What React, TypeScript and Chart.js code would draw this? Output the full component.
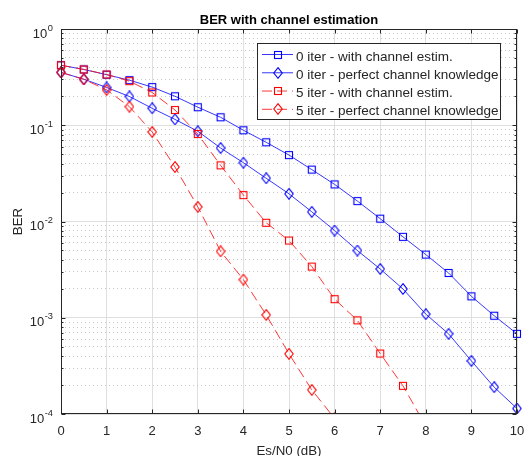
import React, { useEffect, useRef } from "react";
import { Chart, registerables } from "chart.js";

Chart.register(...registerables);

// ---------- data ----------
const esn0 = [0, 0.5, 1, 1.5, 2, 2.5, 3, 3.5, 4, 4.5, 5, 5.5, 6, 6.5, 7, 7.5, 8, 8.5, 9, 9.5, 10];

const ber0IterEstim = [0.42, 0.38, 0.335, 0.294, 0.249, 0.2, 0.154, 0.121, 0.0887, 0.0665, 0.049, 0.0346, 0.0243, 0.0163, 0.0107, 0.00693, 0.00453, 0.00292, 0.00167, 0.00105, 0.00068];
const ber0IterPerfect = [0.354, 0.301, 0.247, 0.199, 0.15, 0.115, 0.0866, 0.058, 0.0408, 0.0281, 0.0194, 0.0126, 0.00806, 0.00499, 0.00321, 0.00199, 0.00109, 0.00068, 0.000356, 0.00019, 0.000114];
const ber5IterEstim = [0.42, 0.38, 0.337, 0.287, 0.219, 0.144, 0.081, 0.0383, 0.0188, 0.0097, 0.00634, 0.0034, 0.00156, 0.00094, 0.000425, 0.000196, 0.000075, null, null, null, null];
const ber5IterPerfect = [0.354, 0.3, 0.233, 0.156, 0.0851, 0.0368, 0.0142, 0.0049, 0.00249, 0.00107, 0.000422, 0.000178, 0.00009, null, null, null, null, null, null, null, null];

const seriesLabels = [
  "0 iter - with channel estim.",
  "0 iter - perfect channel knowledge",
  "5 iter - with channel estim.",
  "5 iter - perfect channel knowledge",
];

const xTickValues = [0, 1, 2, 3, 4, 5, 6, 7, 8, 9, 10];
const yDecades = [1e-4, 1e-3, 1e-2, 1e-1, 1];
const yDecadeExponents = ["-4", "-3", "-2", "-1", "0"];
const yMinorFactors = [2, 3, 4, 5, 6, 7, 8, 9];

const titleText = "BER with channel estimation";
const xAxisLabel = "Es/N0 (dB)";
const yAxisLabel = "BER";

// ---------- styling ----------
const FONT = '"Liberation Sans", Arial, Helvetica, sans-serif';
const AXIS_COLOR = "#262626";
const BLUE = "rgb(0,0,255)";
const RED = "rgb(255,0,0)";
const LINE_BLUE = "rgba(20,20,255,0.85)";
const LINE_RED = "rgba(255,20,20,0.85)";
const DASH = [10, 5];

function makeMarker(kind: "square" | "diamond", color: string): HTMLCanvasElement {
  const c = document.createElement("canvas");
  if (kind === "square") {
    c.width = 10;
    c.height = 10;
    const g = c.getContext("2d")!;
    g.strokeStyle = color;
    g.lineWidth = 1.1;
    g.strokeRect(1.5, 1.5, 7, 7);
  } else {
    c.width = 10;
    c.height = 12;
    const g = c.getContext("2d")!;
    g.strokeStyle = color;
    g.lineWidth = 1.1;
    g.beginPath();
    g.moveTo(5, 0.7);
    g.lineTo(9.2, 6);
    g.lineTo(5, 11.3);
    g.lineTo(0.8, 6);
    g.closePath();
    g.stroke();
  }
  return c;
}

function isDecade(v: number) {
  const l = Math.log10(v);
  return Math.abs(l - Math.round(l)) < 1e-9;
}

const matlabPlugin = {
  id: "matlabLook",
  beforeDraw(chart: any) {
    const { ctx, width, height } = chart;
    ctx.save();
    ctx.fillStyle = "#ffffff";
    ctx.fillRect(0, 0, width, height);
    ctx.restore();
  },
  afterDraw(chart: any) {
    const { ctx, chartArea: a } = chart;
    const xs = chart.scales.x;
    const ys = chart.scales.y;
    ctx.save();

    // box
    ctx.strokeStyle = AXIS_COLOR;
    ctx.lineWidth = 1;
    ctx.setLineDash([]);
    const L = Math.round(a.left) + 0.5;
    const R = Math.round(a.right) - 0.5;
    const T = Math.round(a.top) + 0.5;
    const B = Math.round(a.bottom) - 0.5;
    ctx.strokeRect(L, T, R - L, B - T);

    // ticks (inside, all sides)
    ctx.beginPath();
    xs.ticks.forEach((t: any) => {
      const px = Math.round(xs.getPixelForValue(t.value)) + 0.5;
      ctx.moveTo(px, B);
      ctx.lineTo(px, B - 4);
      ctx.moveTo(px, T);
      ctx.lineTo(px, T + 4);
    });
    ys.ticks.forEach((t: any) => {
      const py = Math.round(ys.getPixelForValue(t.value)) + 0.5;
      const len = isDecade(t.value) ? 4 : 2;
      ctx.moveTo(L, py);
      ctx.lineTo(L + len, py);
      ctx.moveTo(R, py);
      ctx.lineTo(R - len, py);
    });
    ctx.stroke();

    // x tick labels
    ctx.fillStyle = AXIS_COLOR;
    ctx.font = `13px ${FONT}`;
    ctx.textAlign = "center";
    ctx.textBaseline = "alphabetic";
    xs.ticks.forEach((t: any) => {
      const px = xs.getPixelForValue(t.value);
      ctx.fillText(String(t.value), px, a.bottom + 21);
    });

    // y tick labels with superscript exponent
    yDecades.forEach((v, i) => {
      const py = ys.getPixelForValue(v);
      const rightEdge = a.left - 8;
      ctx.font = `9.3px ${FONT}`;
      ctx.textAlign = "right";
      const exp = yDecadeExponents[i];
      const ew = ctx.measureText(exp).width;
      ctx.fillText(exp, rightEdge, py + 1.7);
      ctx.font = `13px ${FONT}`;
      ctx.fillText("10", rightEdge - ew - 0.5, py + 8.6);
    });

    // axis titles
    ctx.font = `13.3px ${FONT}`;
    ctx.textAlign = "center";
    ctx.fillText(xAxisLabel, (a.left + a.right) / 2, 454.5);
    ctx.save();
    ctx.translate(22.3, (a.top + a.bottom) / 2);
    ctx.rotate(-Math.PI / 2);
    ctx.fillText(yAxisLabel, 0, 0);
    ctx.restore();

    // title
    ctx.fillStyle = "#000000";
    ctx.font = `bold 13px ${FONT}`;
    ctx.fillText(titleText, (a.left + a.right) / 2, 24);

    // legend
    const lx0 = 257.5, ly0 = 43.5, lx1 = 500.5, ly1 = 119.5;
    ctx.fillStyle = "#ffffff";
    ctx.fillRect(lx0, ly0, lx1 - lx0, ly1 - ly0);
    ctx.strokeStyle = "#262626";
    ctx.lineWidth = 1;
    ctx.strokeRect(lx0, ly0, lx1 - lx0, ly1 - ly0);
    chart.data.datasets.forEach((ds: any, i: number) => {
      const base = 60.5 + i * 18.27;
      const ly = base - 6;
      ctx.save();
      ctx.strokeStyle = ds.borderColor;
      ctx.lineWidth = ds.borderWidth;
      ctx.setLineDash(ds.borderDash || []);
      ctx.beginPath();
      ctx.moveTo(262, ly);
      ctx.lineTo(293, ly);
      ctx.stroke();
      ctx.restore();
      const m: HTMLCanvasElement = ds.pointStyle;
      ctx.drawImage(m, Math.round(277.5 - m.width / 2), Math.round(ly - m.height / 2));
      ctx.fillStyle = AXIS_COLOR;
      ctx.font = `13.5px ${FONT}`;
      ctx.textAlign = "left";
      ctx.fillText(ds.label, 296, base);
    });

    ctx.restore();
  },
};

function toPoints(values: (number | null)[]) {
  return esn0
    .map((x, i) => ({ x, y: values[i] }))
    .filter((p) => p.y !== null) as { x: number; y: number }[];
}

export default function App() {
  const canvasRef = useRef<HTMLCanvasElement | null>(null);

  useEffect(() => {
    if (!canvasRef.current) return;
    const series = [
      { values: ber0IterEstim, color: LINE_BLUE, marker: makeMarker("square", BLUE), dash: [] as number[] },
      { values: ber0IterPerfect, color: LINE_BLUE, marker: makeMarker("diamond", BLUE), dash: [] as number[] },
      { values: ber5IterEstim, color: LINE_RED, marker: makeMarker("square", RED), dash: DASH },
      { values: ber5IterPerfect, color: LINE_RED, marker: makeMarker("diamond", RED), dash: DASH },
    ];
    const datasets = series.map((s, i) => ({
      label: seriesLabels[i],
      data: toPoints(s.values),
      borderColor: s.color,
      backgroundColor: "transparent",
      borderWidth: 1,
      borderDash: s.dash,
      pointStyle: s.marker,
      pointRadius: 5,
      pointHoverRadius: 5,
      tension: 0,
      order: series.length - i,
      clip: { left: 12, right: 12, top: 12, bottom: 0 },
    }));

    const chart = new Chart(canvasRef.current, {
      type: "line",
      data: { datasets } as any,
      options: {
        responsive: false,
        animation: false,
        devicePixelRatio: 1,
        layout: { padding: { left: 61, top: 29, right: 9, bottom: 42 } },
        plugins: {
          legend: { display: false },
          title: { display: false },
          tooltip: { enabled: false },
        },
        events: [],
        scales: {
          x: {
            type: "linear",
            min: 0,
            max: 10,
            afterBuildTicks: (scale: any) => {
              scale.ticks = xTickValues.map((v) => ({ value: v }));
            },
            afterFit: (scale: any) => {
              scale.height = 0;
            },
            ticks: { display: false },
            title: { display: false },
            grid: {
              color: "#dfdfdf",
              lineWidth: 1,
              drawTicks: false,
            },
            border: { display: false },
          },
          y: {
            type: "logarithmic",
            min: yDecades[0],
            max: yDecades[yDecades.length - 1],
            afterBuildTicks: (scale: any) => {
              const ticks: any[] = [];
              yDecades.forEach((d, i) => {
                ticks.push({ value: d, major: true });
                if (i < yDecades.length - 1) {
                  yMinorFactors.forEach((f) => ticks.push({ value: f * d, major: false }));
                }
              });
              scale.ticks = ticks;
            },
            afterFit: (scale: any) => {
              scale.width = 0;
            },
            ticks: { display: false },
            title: { display: false },
            grid: {
              color: (ctx: any) => (ctx.tick && isDecade(ctx.tick.value) ? "#dfdfdf" : "#c8c8c8"),
              lineWidth: 1,
              drawTicks: false,
            },
            border: {
              display: false,
              dash: (ctx: any) => (ctx.tick && !isDecade(ctx.tick.value) ? [1, 3] : []),
            },
          },
        },
      } as any,
      plugins: [matlabPlugin],
    });
    return () => chart.destroy();
  }, []);

  return (
    <div style={{ position: "absolute", left: 0, top: 0, width: 526, height: 456 }}>
      <canvas ref={canvasRef} width={526} height={456} style={{ display: "block" }} />
    </div>
  );
}
